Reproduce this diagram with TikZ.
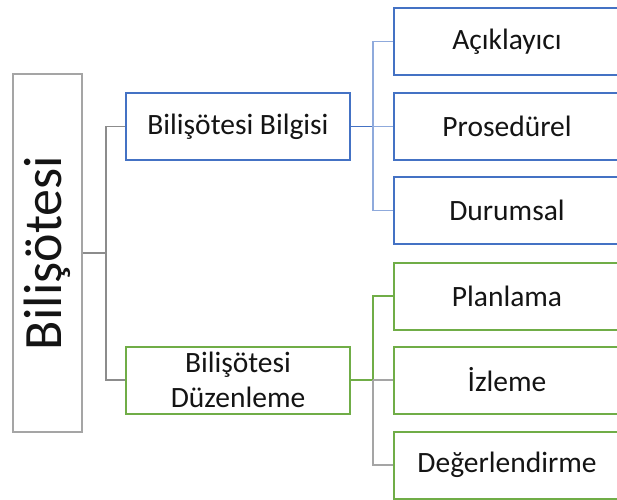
\documentclass[tikz,border=0pt]{standalone}
\usepackage{fontspec}
\setmainfont{Carlito}
\usetikzlibrary{positioning, calc}
\usepackage{xcolor}
\definecolor{bRoot}{RGB}{165, 165, 165}
\definecolor{lRoot}{RGB}{140, 140, 140}
\definecolor{bBlue}{RGB}{68, 114, 196}
\definecolor{lBlue}{RGB}{143, 170, 220}
\definecolor{bGreen}{RGB}{112, 173, 71}
\definecolor{tDark}{RGB}{20, 20, 20}

\begin{document}
\begin{tikzpicture}[
    x=1pt, y=-1pt,
    font=\fontsize{29.5}{35}\selectfont,
    block/.style={
        draw=#1,
        line width=2pt,
        fill=white,
        align=center,
        text=tDark,
        inner sep=0pt
    },
    leaf/.style={block=#1, minimum width=226pt, minimum height=67pt},
    mid/.style={block=#1, minimum width=224pt, minimum height=67pt},
    link/.style={line width=1.6pt, color=#1}
]

\useasboundingbox (0,0) rectangle (617,499);
\clip (0,0) rectangle (617,499);

\node[block=bRoot, minimum width=69pt, minimum height=358pt] (root) at (47.5, 253) {};
\node[font=\fontsize{54}{60}\selectfont, text=tDark, rotate=90] (rootlbl) at (root.center) {Bilişötesi};

\node[mid=bBlue] (bilgi) at (238, 126.5) {Bilişötesi Bilgisi};
\node[mid=bGreen] (duzen) at (238, 380) {Bilişötesi\\Düzenleme};

% Bilgi leaves
\node[leaf=bBlue] (acik) at (507, 41.5) {Açıklayıcı};
\node[leaf=bBlue] (pros) at (507, 126.5) {Prosedürel};
\node[leaf=bBlue] (durum) at (507, 210.5) {Durumsal};

% Düzenleme leaves
\node[leaf=bGreen] (plan) at (507, 296) {Planlama};
\node[leaf=bGreen] (izle) at (507, 380) {İzleme};
\node[leaf=bGreen] (deger) at (507, 465) {Değerlendirme};

\draw[link=lRoot] (root.east) -- ++(23,0) coordinate (rj);
\draw[link=lRoot] (bilgi.west) -| (rj) |- (duzen.west);

\draw[link=bBlue] (bilgi.east) -- ++(22,0) coordinate (bj);
\draw[link=lBlue] (acik.west) -| (bj) |- (durum.west);
\draw[link=lBlue] (bj) -- (pros.west);

\draw[link=bGreen] (duzen.east) -- ++(22,0) coordinate (gj);
\draw[link=bGreen] (plan.west) -| (gj);
\draw[link=bRoot] (gj) |- (deger.west);
\draw[link=bRoot] (gj) -- (izle.west);

\end{tikzpicture}
\end{document}
